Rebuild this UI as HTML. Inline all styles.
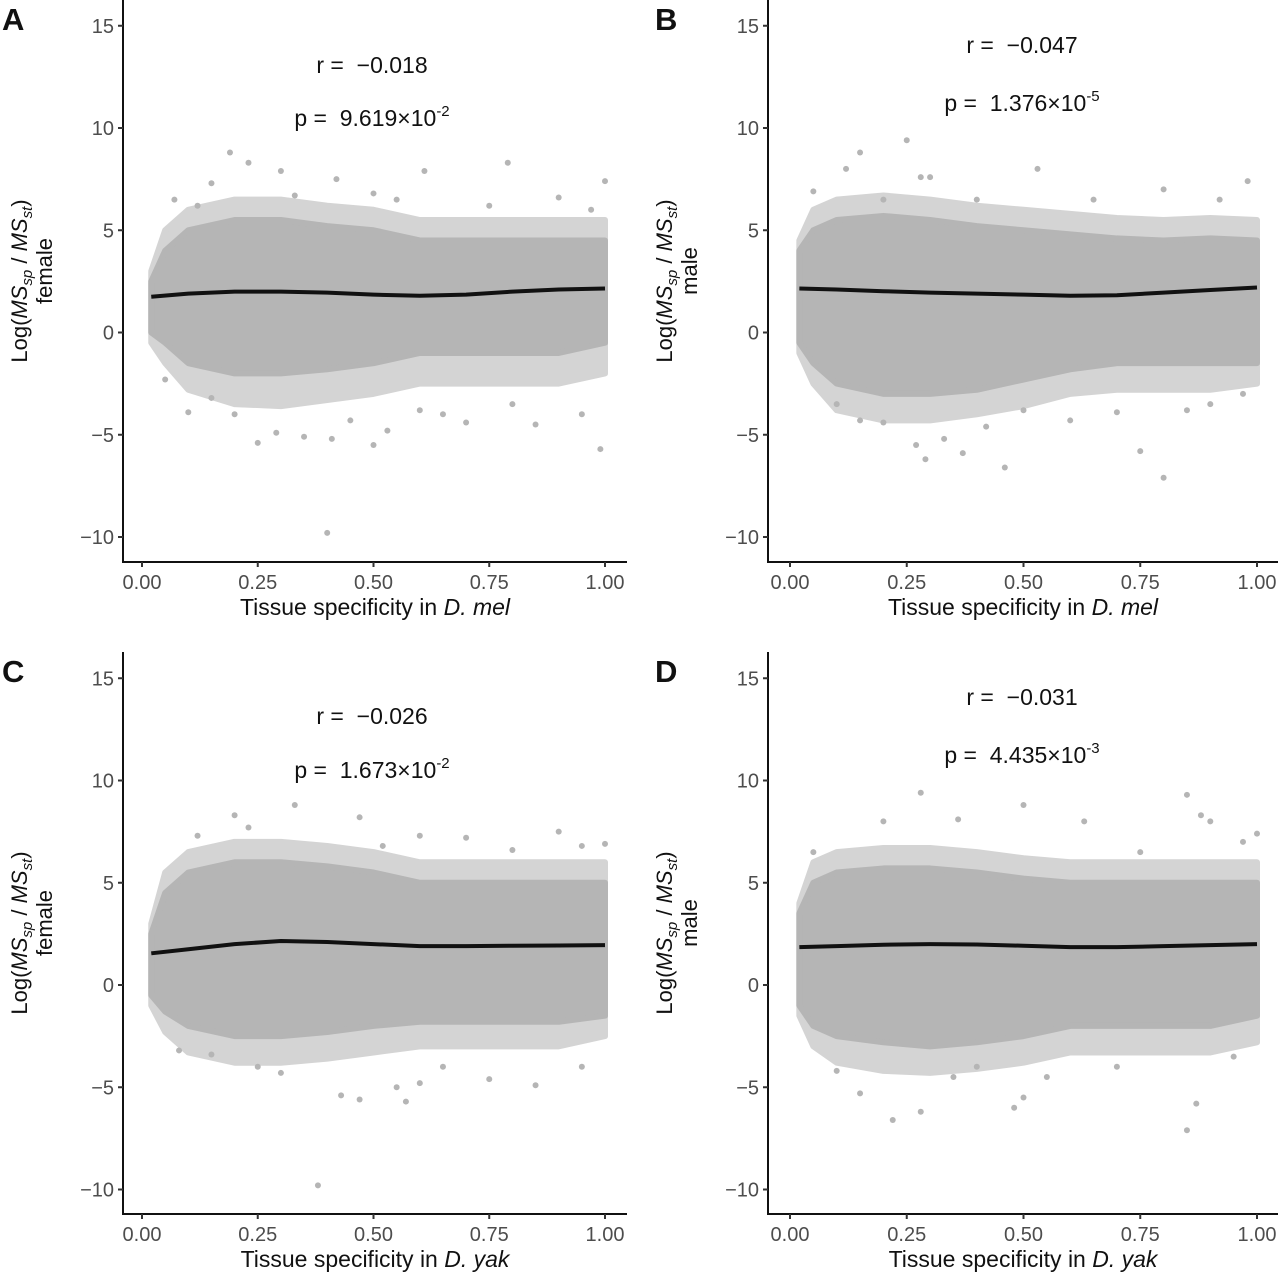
<!DOCTYPE html>
<html><head><meta charset="utf-8"><style>
body{margin:0;background:#fff;}
svg text{font-family:"Liberation Sans",Arial,sans-serif;white-space:pre;}
</style></head><body>
<svg id="fig" width="1280" height="1274" viewBox="0 0 1280 1274" xmlns="http://www.w3.org/2000/svg"></svg>
<script>
const yTicks=[15,10,5,0,-5,-10];
const xTicks=[0,0.25,0.5,0.75,1];
const xTickLabels=["0.00","0.25","0.50","0.75","1.00"];
const binX=[0.02,0.05,0.1,0.2,0.3,0.4,0.5,0.6,0.7,0.8,0.9,1.0];
const smoothX=[0.02,0.1,0.2,0.3,0.4,0.5,0.6,0.7,0.8,0.9,1.0];
const hiA=[2.5,4,5,5.5,5.5,5.2,5,4.5,4.5,4.5,4.5,4.5];
const loA=[0,-0.5,-1.5,-2,-2,-1.8,-1.5,-1,-1,-1,-1,-0.5];
const hiB=[4,5,5.5,5.7,5.5,5.2,5,4.8,4.6,4.5,4.6,4.5];
const loB=[-0.5,-1.5,-2.5,-3,-3,-2.8,-2.3,-1.8,-1.5,-1.5,-1.5,-1.5];
const hiC=[2.5,4.5,5.5,6,6,5.8,5.5,5,5,5,5,5];
const loC=[-0.5,-1.3,-2,-2.5,-2.5,-2.3,-2,-1.8,-1.8,-1.8,-1.8,-1.5];
const hiD=[3.5,5,5.5,5.7,5.7,5.5,5.2,5,5,5,5,5];
const loD=[-1,-2,-2.5,-2.8,-3,-2.8,-2.5,-2,-2,-2,-2,-1.5];
const ohiA=[3,5,6,6.5,6.5,6.2,6,5.5,5.5,5.5,5.5,5.5];
const oloA=[-0.5,-1.5,-2.8,-3.5,-3.6,-3.3,-3,-2.5,-2.5,-2.5,-2.5,-2];
const ohiB=[4.5,6,6.5,6.7,6.5,6.2,6,5.8,5.6,5.5,5.6,5.5];
const oloB=[-1,-2.5,-3.8,-4.3,-4.3,-4,-3.6,-3,-2.8,-2.8,-2.8,-2.5];
const ohiC=[3,5.5,6.5,7,7,6.8,6.5,6,6,6,6,6];
const oloC=[-1,-2.3,-3.3,-3.8,-3.8,-3.6,-3.3,-3,-3,-3,-3,-2.5];
const ohiD=[4,6,6.5,6.7,6.7,6.5,6.2,6,6,6,6,6];
const oloD=[-1.5,-3,-3.8,-4.2,-4.3,-4.1,-3.8,-3.3,-3.3,-3.3,-3.3,-2.8];
const smA=[1.75,1.9,2.0,2.0,1.95,1.85,1.8,1.85,2.0,2.1,2.15];
const smB=[2.15,2.1,2.02,1.95,1.9,1.85,1.8,1.82,1.95,2.08,2.2];
const smC=[1.55,1.75,2.0,2.15,2.1,2.0,1.9,1.9,1.92,1.93,1.95];
const smD=[1.85,1.9,1.97,2.0,1.98,1.92,1.85,1.85,1.9,1.95,2.0];
const outA=[[0.19,8.8],[0.23,8.3],[0.15,7.3],[0.3,7.9],[0.42,7.5],[0.61,7.9],[0.79,8.3],[1.0,7.4],[0.07,6.5],[0.5,6.8],[0.9,6.6],[0.4,-9.8],[0.35,-5.1],[0.41,-5.2],[0.25,-5.4],[0.5,-5.5],[0.53,-4.8],[0.29,-4.9],[0.99,-5.7],[0.1,-3.9],[0.2,-4],[0.7,-4.4],[0.85,-4.5],[0.95,-4],[0.65,-4],[0.45,-4.3],[0.15,-3.2],[0.6,-3.8],[0.8,-3.5],[0.05,-2.3],[0.75,6.2],[0.55,6.5],[0.33,6.7],[0.12,6.2],[0.97,6]];
const outB=[[0.25,9.4],[0.15,8.8],[0.12,8],[0.28,7.6],[0.3,7.6],[0.53,8],[0.8,7],[0.98,7.4],[0.05,6.9],[0.46,-6.6],[0.29,-6.2],[0.8,-7.1],[0.75,-5.8],[0.37,-5.9],[0.27,-5.5],[0.15,-4.3],[0.2,-4.4],[0.33,-5.2],[0.42,-4.6],[0.6,-4.3],[0.9,-3.5],[0.97,-3],[0.1,-3.5],[0.5,-3.8],[0.7,-3.9],[0.85,-3.8],[0.92,6.5],[0.65,6.5],[0.4,6.5],[0.2,6.5]];
const outC=[[0.33,8.8],[0.2,8.3],[0.23,7.7],[0.47,8.2],[0.12,7.3],[0.6,7.3],[0.9,7.5],[0.95,6.8],[1.0,6.9],[0.38,-9.8],[0.43,-5.4],[0.47,-5.6],[0.57,-5.7],[0.55,-5],[0.6,-4.8],[0.75,-4.6],[0.85,-4.9],[0.3,-4.3],[0.15,-3.4],[0.08,-3.2],[0.95,-4],[0.65,-4],[0.25,-4],[0.7,7.2],[0.8,6.6],[0.52,6.8]];
const outD=[[0.28,9.4],[0.85,9.3],[0.5,8.8],[0.2,8],[0.36,8.1],[0.63,8],[0.88,8.3],[0.9,8],[0.97,7],[1.0,7.4],[0.05,6.5],[0.22,-6.6],[0.28,-6.2],[0.85,-7.1],[0.87,-5.8],[0.48,-6],[0.5,-5.5],[0.15,-5.3],[0.55,-4.5],[0.1,-4.2],[0.35,-4.5],[0.4,-4],[0.7,-4],[0.95,-3.5],[0.75,6.5]];
const rVals=["−0.018","−0.047","−0.026","−0.031"];
const pMant=["9.619","1.376","1.673","4.435"];
const pExp=["-2","-5","-2","-3"];
const NS="http://www.w3.org/2000/svg";
const svg=document.getElementById('fig');
function mk(tag,attrs,parent){const e=document.createElementNS(NS,tag);for(const k in attrs)e.setAttribute(k,attrs[k]);(parent||svg).appendChild(e);return e;}
const panels=[
 {id:'a',L:'A',lx:2,axL:123,x0:142,x1:605,xr:627,top:0,bot:562,y0:332.5,hi:hiA,lo:loA,ohi:ohiA,olo:oloA,sm:smA,out:outA,sex:'female',sp:'mel',rY:65,pY:118,tx:372},
 {id:'b',L:'B',lx:655,axL:768,x0:790,x1:1257,xr:1278,top:0,bot:562,y0:332.5,hi:hiB,lo:loB,ohi:ohiB,olo:oloB,sm:smB,out:outB,sex:'male',sp:'mel',rY:45,pY:103,tx:1022},
 {id:'c',L:'C',lx:2,axL:123,x0:142,x1:605,xr:627,top:652,bot:1214,y0:985,hi:hiC,lo:loC,ohi:ohiC,olo:oloC,sm:smC,out:outC,sex:'female',sp:'yak',rY:716,pY:770,tx:372},
 {id:'d',L:'D',lx:655,axL:768,x0:790,x1:1257,xr:1278,top:652,bot:1214,y0:985,hi:hiD,lo:loD,ohi:ohiD,olo:oloD,sm:smD,out:outD,sex:'male',sp:'yak',rY:697,pY:755,tx:1022}
];
panels.forEach((p,i)=>{
 const g=mk('g',{});
 
 
 const X=v=>p.x0+v*(p.x1-p.x0);
 const Y=v=>p.y0-v*20.45;
 function band(hi,lo,fill,sw){
  let pts=binX.map((x,j)=>X(x)+','+Y(hi[j]));
  for(let j=binX.length-1;j>=0;j--)pts.push(X(binX[j])+','+Y(lo[j]));
  return mk('polygon',{points:pts.join(' '),fill:fill,stroke:fill,'stroke-width':sw,'stroke-linejoin':'round'},g);
 }
 const ob=band(p.ohi,p.olo,'#d4d4d4',6);
 
 
 const cl=band(p.hi,p.lo,'#b5b5b5',6);
 
 
 p.out.forEach(o=>{
  const c=mk('circle',{cx:X(o[0]),cy:Y(o[1]),r:3,fill:'#b5b5b5'},g);
  
  
 });
 let d='';
 smoothX.forEach((x,j)=>{d+=(j?'L':'M')+X(x)+','+Y(p.sm[j]);});
 const ln=mk('path',{d:d,fill:'none',stroke:'#111','stroke-width':4,'stroke-linejoin':'round'},g);
 
 
 const ax=mk('path',{d:`M${p.axL},${p.top}V${p.bot}H${p.xr}`,fill:'none',stroke:'#111','stroke-width':2},g);
 
 
 yTicks.forEach(t=>{
  mk('line',{x1:p.axL-5,x2:p.axL,y1:Y(t),y2:Y(t),stroke:'#333','stroke-width':2},g);
  const tl=mk('text',{x:p.axL-9,y:Y(t)+7,'text-anchor':'end','font-size':20,fill:'#4d4d4d'},g);
  tl.textContent=t<0?'−'+(-t):String(t);
  
  
 });
 xTicks.forEach((t,j)=>{
  mk('line',{x1:X(t),x2:X(t),y1:p.bot,y2:p.bot+5,stroke:'#333','stroke-width':2},g);
  const tl=mk('text',{x:X(t),y:p.bot+27,'text-anchor':'middle','font-size':20,fill:'#4d4d4d'},g);
  tl.textContent=xTickLabels[j];
  
  
 });
 const xt=mk('text',{x:(p.axL+p.xr)/2,y:p.bot+53,'text-anchor':'middle','font-size':23,fill:'#111'},g);
 xt.innerHTML='Tissue specificity in <tspan font-style="italic">D. '+p.sp+'</tspan>';
 
 
 const cy=(p.top+p.bot)/2;
 const yt=mk('text',{transform:`translate(${p.axL-96},${cy}) rotate(-90)`,'text-anchor':'middle','font-size':22,fill:'#111'},g);
 yt.innerHTML='Log(<tspan font-style="italic">MS</tspan><tspan font-style="italic" font-size="15" dy="5">sp</tspan><tspan dy="-5"> / </tspan><tspan font-style="italic">MS</tspan><tspan font-style="italic" font-size="15" dy="5">st</tspan><tspan dy="-5">)</tspan>';
 
 
 const ys=mk('text',{transform:`translate(${p.axL-71},${cy-10}) rotate(-90)`,'text-anchor':'middle','font-size':22,fill:'#111'},g);
 ys.textContent=p.sex;
 
 
 const rt=mk('text',{x:p.tx,y:p.rY+8,'text-anchor':'middle','font-size':23,fill:'#111'},g);
 rt.textContent='r =  '+rVals[i];
 
 
 const pt=mk('text',{x:p.tx,y:p.pY+8,'text-anchor':'middle','font-size':23,fill:'#111'},g);
 pt.innerHTML='p =  '+pMant[i]+'×10<tspan font-size="15" dy="-10">'+pExp[i]+'</tspan>';
 
 
 const lt=mk('text',{x:p.lx,y:p.top+30,'font-size':31,'font-weight':'bold',fill:'#111'},g);
 lt.textContent=p.L;
 
 
});
</script>
</body></html>
